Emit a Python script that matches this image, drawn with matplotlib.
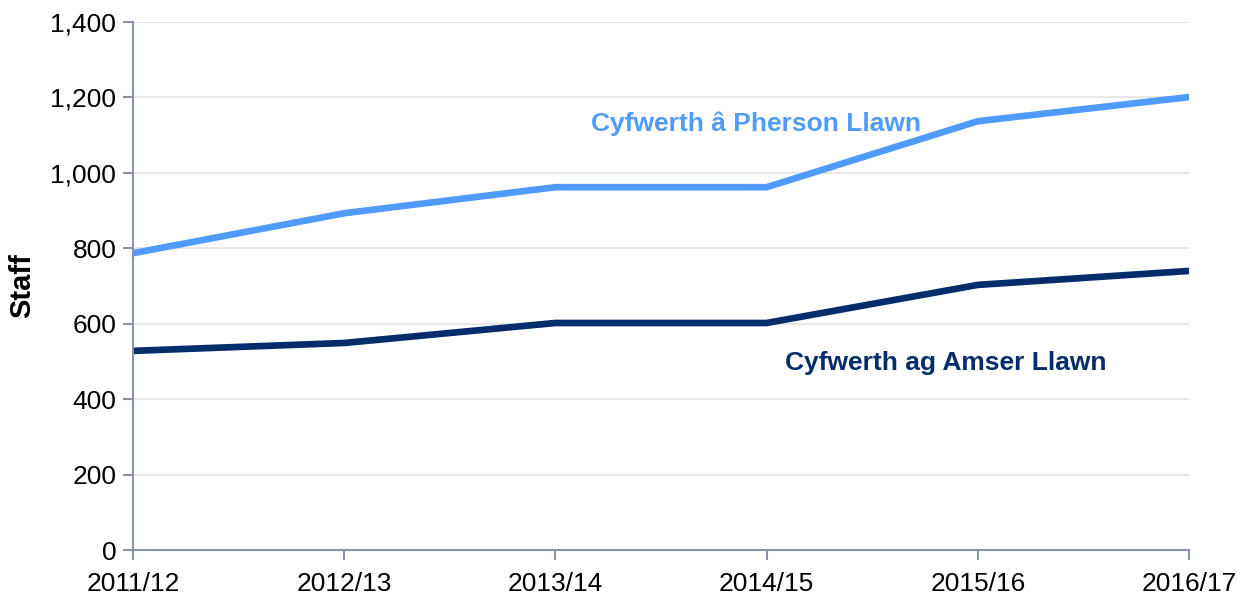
import matplotlib
matplotlib.use("Agg")
import matplotlib.pyplot as plt

# data
years = ["2011/12", "2012/13", "2013/14", "2014/15", "2015/16", "2016/17"]
fte_person = [787, 893, 962, 962, 1137, 1201]
fte_time = [528, 549, 602, 602, 703, 740]

plt.rcParams["font.family"] = ["Liberation Sans", "DejaVu Sans"]

fig = plt.figure(figsize=(12.5, 5.97), dpi=100)
ax = fig.add_axes([0.1064, 0.0787, 0.8448, 0.8844])

x = range(len(years))
ax.plot(x, fte_person, color="#4f9bff", linewidth=4.8, solid_joinstyle="miter")
ax.plot(x, fte_time, color="#032d6b", linewidth=4.8, solid_joinstyle="miter")

ax.set_xlim(0, len(years) - 1)
ax.set_ylim(0, 1400)
ax.set_yticks(range(0, 1401, 200))
ax.set_yticklabels([f"{v:,}" for v in range(0, 1401, 200)])
ax.set_xticks(list(x))
ax.set_xticklabels(years)

ax.grid(axis="y", color="#e3e3e3", linewidth=1.2)
ax.set_axisbelow(True)
for side in ["top", "right"]:
    ax.spines[side].set_visible(False)
for side in ["left", "bottom"]:
    ax.spines[side].set_color("#8a93a8")
    ax.spines[side].set_linewidth(1.5)
ax.tick_params(axis="both", colors="#8a93a8", length=7, width=1.5,
               labelsize=19, labelcolor="black")
ax.tick_params(axis="x", pad=9)
ax.tick_params(axis="y", pad=5)

ax.set_ylabel("Staff", fontsize=21, fontweight="bold", labelpad=10)

# series labels placed next to the lines
ax.text(2.95, 1130, "Cyfwerth â Pherson Llawn", color="#4f9bff",
        fontsize=19, fontweight="bold", ha="center", va="center")
ax.text(3.85, 497, "Cyfwerth ag Amser Llawn", color="#032d6b",
        fontsize=19, fontweight="bold", ha="center", va="center")

fig.savefig("out.png", dpi=100)
